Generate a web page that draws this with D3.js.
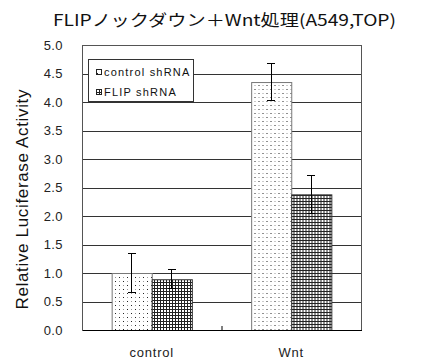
<!DOCTYPE html>
<html lang="ja">
<head>
<meta charset="UTF-8">
<title>FLIPノックダウン＋Wnt処理(A549,TOP)</title>
<script src="https://cdn.jsdelivr.net/npm/d3@7/dist/d3.min.js"></script>
<style>
  * { margin: 0; padding: 0; }
  body { background: #fff; width: 440px; height: 362px; overflow: hidden; }
  svg { display: block; font-family: 'Liberation Sans', Arial, sans-serif; }
</style>
</head>
<body>
<div id="chart"></div>
<script>
// ─── Data ───────────────────────────────────────────────────────────────────
const categories = ['control', 'Wnt'];
const seriesNames = ['control shRNA', 'FLIP shRNA'];
const controlShRNA = [1.0, 4.35];
const flipShRNA    = [0.89, 2.38];
const controlErr   = [0.35, 0.33];
const flipErr      = [0.17, 0.33];
const yTicks = [0, 0.5, 1.0, 1.5, 2.0, 2.5, 3.0, 3.5, 4.0, 4.5, 5.0];

const W = 440, H = 362;
const plot = { left: 82, right: 361, top: 45, bottom: 330 };

const svg = d3.select('#chart').append('svg')
  .attr('width', W)
  .attr('height', H);

// ─── Fill patterns ──────────────────────────────────────────────────────────
const defs = svg.append('defs');

const dots = defs.append('pattern')
  .attr('id', 'dots')
  .attr('patternUnits', 'userSpaceOnUse')
  .attr('width', 8).attr('height', 8);
dots.append('rect').attr('width', 8).attr('height', 8).attr('fill', '#fff');
[[1, 1, '#222'], [5, 1, '#999'], [1, 5, '#999'], [5, 5, '#222']].forEach(([x, y, c]) => {
  dots.append('rect').attr('x', x).attr('y', y).attr('width', 1).attr('height', 1).attr('fill', c);
});

const grid = defs.append('pattern')
  .attr('id', 'grid')
  .attr('patternUnits', 'userSpaceOnUse')
  .attr('width', 3).attr('height', 3);
grid.append('rect').attr('width', 3).attr('height', 3).attr('fill', '#fff');
grid.append('rect').attr('x', 0).attr('y', 0).attr('width', 1).attr('height', 3).attr('fill', '#222');
grid.append('rect').attr('x', 0).attr('y', 0).attr('width', 3).attr('height', 1).attr('fill', '#222');

const fills = ['url(#dots)', 'url(#grid)'];

// ─── Scales ─────────────────────────────────────────────────────────────────
const y = d3.scaleLinear().domain([0, 5]).range([plot.bottom, plot.top]);

const x0 = d3.scaleBand()
  .domain(categories)
  .range([plot.left, plot.right])
  .padding(0);

const x1 = d3.scaleBand()
  .domain(seriesNames)
  .range([0, x0.bandwidth()])
  .paddingInner(0)
  .paddingOuter(0.74);

// ─── Gridlines ──────────────────────────────────────────────────────────────
svg.append('g')
  .attr('transform', `translate(${plot.left},0)`)
  .call(d3.axisLeft(y)
    .tickValues(yTicks.filter(v => v > 0))
    .tickSize(-(plot.right - plot.left))
    .tickFormat(''))
  .call(g => g.select('.domain').remove())
  .call(g => g.selectAll('line').attr('stroke', '#333').attr('shape-rendering', 'crispEdges'));

// plot border
svg.append('rect')
  .attr('x', plot.left + 0.5).attr('y', plot.top + 0.5)
  .attr('width', plot.right - plot.left).attr('height', plot.bottom - plot.top)
  .attr('fill', 'none').attr('stroke', '#555');

// ─── Bars ───────────────────────────────────────────────────────────────────
const rows = categories.map((c, i) => ({
  cat: c,
  vals: [
    { s: seriesNames[0], v: controlShRNA[i], e: controlErr[i], k: 0 },
    { s: seriesNames[1], v: flipShRNA[i],    e: flipErr[i],    k: 1 },
  ],
}));

const groups = svg.append('g').selectAll('g')
  .data(rows)
  .join('g')
  .attr('transform', d => `translate(${x0(d.cat)},0)`);

groups.selectAll('rect')
  .data(d => d.vals)
  .join('rect')
  .attr('x', d => x1(d.s) + 0.5)
  .attr('y', d => y(d.v) + 0.5)
  .attr('width', x1.bandwidth())
  .attr('height', d => y(0) - y(d.v))
  .attr('fill', d => fills[d.k])
  .attr('stroke', d => d.k === 0 ? '#777' : '#333')
  .attr('stroke-width', 1);

// error bars
const eb = groups.selectAll('g.err')
  .data(d => d.vals)
  .join('g')
  .attr('class', 'err')
  .attr('stroke', '#000')
  .attr('shape-rendering', 'crispEdges');

eb.append('line')
  .attr('x1', d => x1(d.s) + x1.bandwidth() / 2)
  .attr('x2', d => x1(d.s) + x1.bandwidth() / 2)
  .attr('y1', d => y(d.v + d.e))
  .attr('y2', d => y(d.v - d.e));
[1, -1].forEach(sign => {
  eb.append('line')
    .attr('x1', d => x1(d.s) + x1.bandwidth() / 2 - 4)
    .attr('x2', d => x1(d.s) + x1.bandwidth() / 2 + 4)
    .attr('y1', d => y(d.v + sign * d.e))
    .attr('y2', d => y(d.v + sign * d.e));
});

// ─── Axes ───────────────────────────────────────────────────────────────────
svg.append('g')
  .attr('transform', `translate(${plot.left},0)`)
  .call(d3.axisLeft(y)
    .tickValues(yTicks)
    .tickSize(0)
    .tickPadding(19)
    .tickFormat(d3.format('.1f')))
  .call(g => g.select('.domain').remove())
  .call(g => g.selectAll('text')
    .attr('font-size', 13)
    .attr('letter-spacing', 0.4)
    .attr('fill', '#222')
    .attr('font-family', "'Liberation Sans', Arial, sans-serif"));

svg.append('g')
  .attr('transform', `translate(0,${plot.bottom})`)
  .call(d3.axisBottom(x0).tickSize(0).tickPadding(18))
  .call(g => g.select('.domain')
    .attr('stroke', '#000')
    .attr('shape-rendering', 'crispEdges'))
  .call(g => g.selectAll('text')
    .attr('font-size', 13)
    .attr('letter-spacing', 0.8)
    .attr('fill', '#222')
    .attr('font-family', "'Liberation Sans', Arial, sans-serif"));

// category divider tick (inside)
svg.append('line')
  .attr('x1', x0('Wnt') + 0.5).attr('x2', x0('Wnt') + 0.5)
  .attr('y1', plot.bottom - 4).attr('y2', plot.bottom)
  .attr('stroke', '#000');

// ─── Titles ─────────────────────────────────────────────────────────────────
svg.append('text')
  .attr('x', 224.5).attr('y', 26)
  .attr('text-anchor', 'middle')
  .attr('font-family', "'Noto Sans CJK JP', sans-serif")
  .attr('font-size', 16)
  .attr('textLength', 343)
  .attr('lengthAdjust', 'spacingAndGlyphs')
  .attr('fill', '#111')
  .text('FLIPノックダウン＋Wnt処理(A549,TOP)');

svg.append('text')
  .attr('transform', `translate(28,${(plot.top + plot.bottom) / 2 + 12}) rotate(-90)`)
  .attr('text-anchor', 'middle')
  .attr('font-size', 17)
  .attr('fill', '#111')
  .attr('textLength', 220)
  .text('Relative Luciferase Activity');

// ─── Legend ─────────────────────────────────────────────────────────────────
const legend = svg.append('g').attr('transform', 'translate(88,59)');
legend.append('rect')
  .attr('x', 0.5).attr('y', 0.5)
  .attr('width', 105).attr('height', 42)
  .attr('fill', '#fff').attr('stroke', '#333');

const items = legend.selectAll('g.item')
  .data(seriesNames)
  .join('g')
  .attr('class', 'item')
  .attr('transform', (d, i) => `translate(8,${13 + i * 20})`);

items.append('rect')
  .attr('x', 0.5).attr('y', -2.5)
  .attr('width', 5).attr('height', 5)
  .attr('fill', (d, i) => fills[i])
  .attr('stroke', '#222');

items.append('text')
  .attr('x', 8).attr('y', 4)
  .attr('font-size', 11)
  .attr('letter-spacing', 1.2)
  .attr('fill', '#111')
  .text(d => d);
</script>
</body>
</html>
